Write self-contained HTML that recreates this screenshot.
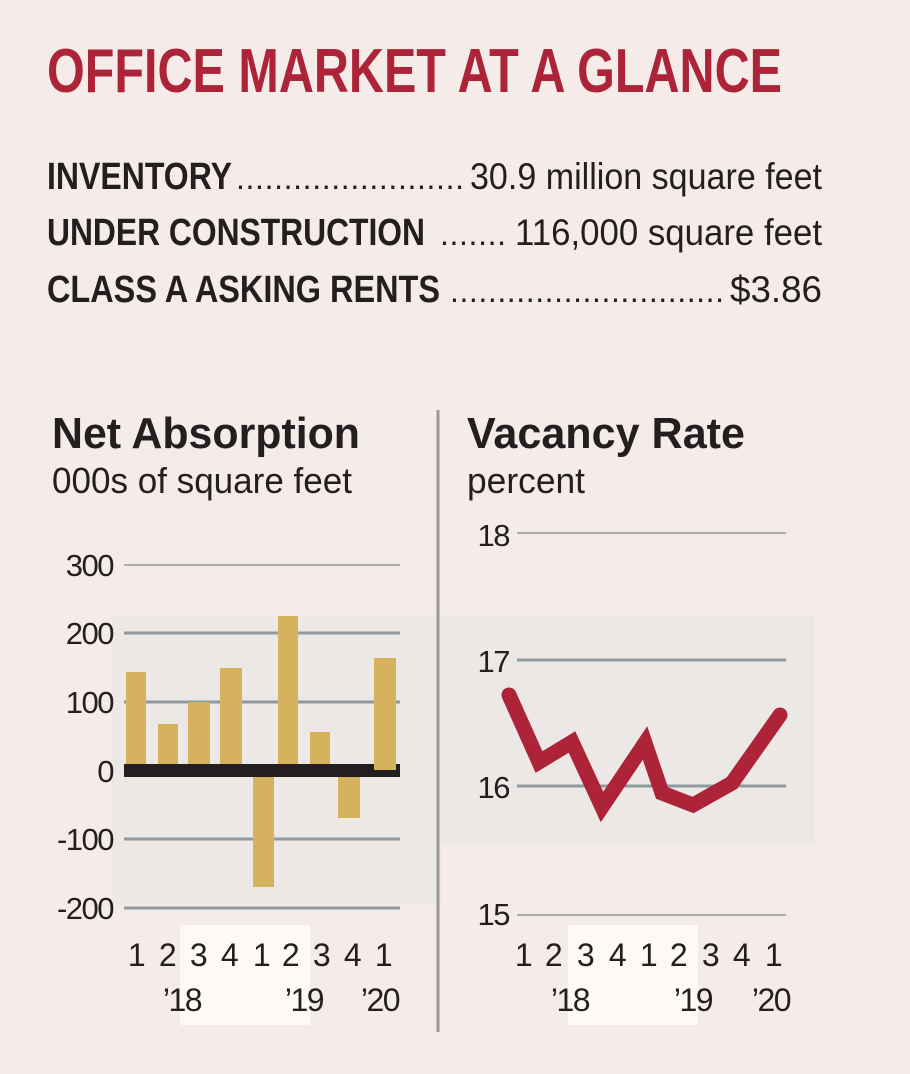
<!DOCTYPE html>
<html><head><style>
body{margin:0;background:#f5ebe8;}
svg{display:block}
text{font-family:"Liberation Sans",sans-serif;fill:#231f20}
.t{letter-spacing:-1.5px}
</style></head><body>
<svg width="910" height="1074" viewBox="0 0 910 1074" xmlns="http://www.w3.org/2000/svg">
<rect width="910" height="1074" fill="#f5ebe8"/>
<text x="47" y="92" font-size="62" font-weight="bold" style="fill:#ad2337" textLength="735" lengthAdjust="spacingAndGlyphs">OFFICE MARKET AT A GLANCE</text>

<text x="47" y="189" font-size="38" font-weight="bold" textLength="185" lengthAdjust="spacingAndGlyphs">INVENTORY</text>
<text x="236" y="189" font-size="32" textLength="228" lengthAdjust="spacing">........................</text>
<text x="822" y="189" font-size="37" text-anchor="end" textLength="352" lengthAdjust="spacingAndGlyphs">30.9 million square feet</text>

<text x="47" y="245" font-size="38" font-weight="bold" textLength="378" lengthAdjust="spacingAndGlyphs">UNDER CONSTRUCTION</text>
<text x="440" y="245" font-size="32" textLength="66" lengthAdjust="spacing">.......</text>
<text x="822" y="245" font-size="37" text-anchor="end" textLength="307" lengthAdjust="spacingAndGlyphs">116,000 square feet</text>

<text x="47" y="302" font-size="38" font-weight="bold" textLength="393" lengthAdjust="spacingAndGlyphs">CLASS A ASKING RENTS</text>
<text x="450" y="302" font-size="32" textLength="274" lengthAdjust="spacing">.............................</text>
<text x="822" y="302" font-size="37" text-anchor="end" textLength="92" lengthAdjust="spacingAndGlyphs">$3.86</text>

<rect x="112" y="615" width="703" height="230" fill="#ece8e5"/>
<rect x="112" y="845" width="330" height="60" fill="#ece8e5"/>
<rect x="180" y="925" width="130" height="100" fill="#fdfaf6"/>
<rect x="568" y="925" width="130" height="100" fill="#fdfaf6"/>

<line x1="438" y1="410" x2="438" y2="1032" stroke="#9a9a9a" stroke-width="3"/>

<text x="52" y="448" font-size="44" font-weight="bold" textLength="308" lengthAdjust="spacingAndGlyphs">Net Absorption</text>
<text x="52" y="493" font-size="36" textLength="300" lengthAdjust="spacingAndGlyphs">000s of square feet</text>
<text x="467" y="448" font-size="44" font-weight="bold" textLength="278" lengthAdjust="spacingAndGlyphs">Vacancy Rate</text>
<text x="467" y="493" font-size="36" textLength="118" lengthAdjust="spacingAndGlyphs">percent</text>

<g stroke="#8f9a9e" stroke-width="3">
<line x1="124" y1="565" x2="400" y2="565" stroke-width="1.5"/>
<line x1="124" y1="633" x2="400" y2="633"/>
<line x1="124" y1="702" x2="400" y2="702"/>
<line x1="124" y1="839" x2="400" y2="839"/>
<line x1="124" y1="908" x2="400" y2="908"/>
</g>
<g font-size="31" text-anchor="end" class="t">
<text x="113" y="576">300</text>
<text x="113" y="644">200</text>
<text x="113" y="713">100</text>
<text x="113" y="782">0</text>
<text x="113" y="850">-100</text>
<text x="113" y="919">-200</text>
</g>
<g>
<rect x="126" y="672" width="20" height="98" fill="#d6b25e"/>
<rect x="158" y="724" width="20" height="46" fill="#d6b25e"/>
<rect x="188" y="702" width="22" height="68" fill="#d6b25e"/>
<rect x="220" y="668" width="22" height="102" fill="#d6b25e"/>
<rect x="253" y="770" width="21" height="117" fill="#d6b25e"/>
<rect x="278" y="616" width="20" height="154" fill="#d6b25e"/>
<rect x="310" y="732" width="20" height="38" fill="#d6b25e"/>
<rect x="338" y="770" width="22" height="48" fill="#d6b25e"/>
</g>
<rect x="124" y="764" width="276" height="13" fill="#231f20"/>
<rect x="374" y="658" width="22" height="112" fill="#d6b25e"/>
<g font-size="32" text-anchor="middle" class="t">
<text x="136" y="966">1</text><text x="167" y="966">2</text><text x="198" y="966">3</text><text x="229" y="966">4</text><text x="261" y="966">1</text><text x="290" y="966">2</text><text x="321" y="966">3</text><text x="352" y="966">4</text><text x="383" y="966">1</text>
<text x="182" y="1011">’18</text><text x="304" y="1011">’19</text><text x="380" y="1011">’20</text>
</g>

<g stroke="#8f9a9e">
<line x1="517" y1="533" x2="786" y2="533" stroke-width="1.5"/>
<line x1="517" y1="660" x2="786" y2="660" stroke-width="3"/>
<line x1="517" y1="786" x2="786" y2="786" stroke-width="3"/>
<line x1="517" y1="915" x2="786" y2="915" stroke-width="1.5"/>
</g>
<g font-size="31" text-anchor="end" class="t">
<text x="509" y="546">18</text><text x="509" y="672">17</text><text x="509" y="798">16</text><text x="509" y="925">15</text>
</g>
<polyline points="509,695 539,762 572,742 602,807 645,743 662,793 693,805 732,783 780,715" fill="none" stroke="#ad2337" stroke-width="15" stroke-linejoin="miter" stroke-linecap="round"/>
<g font-size="32" text-anchor="middle" class="t">
<text x="523" y="966">1</text><text x="553" y="966">2</text><text x="585" y="966">3</text><text x="617" y="966">4</text><text x="648" y="966">1</text><text x="678" y="966">2</text><text x="710" y="966">3</text><text x="741" y="966">4</text><text x="773" y="966">1</text>
<text x="570" y="1011">’18</text><text x="693" y="1011">’19</text><text x="771" y="1011">’20</text>
</g>
</svg>
</body></html>
